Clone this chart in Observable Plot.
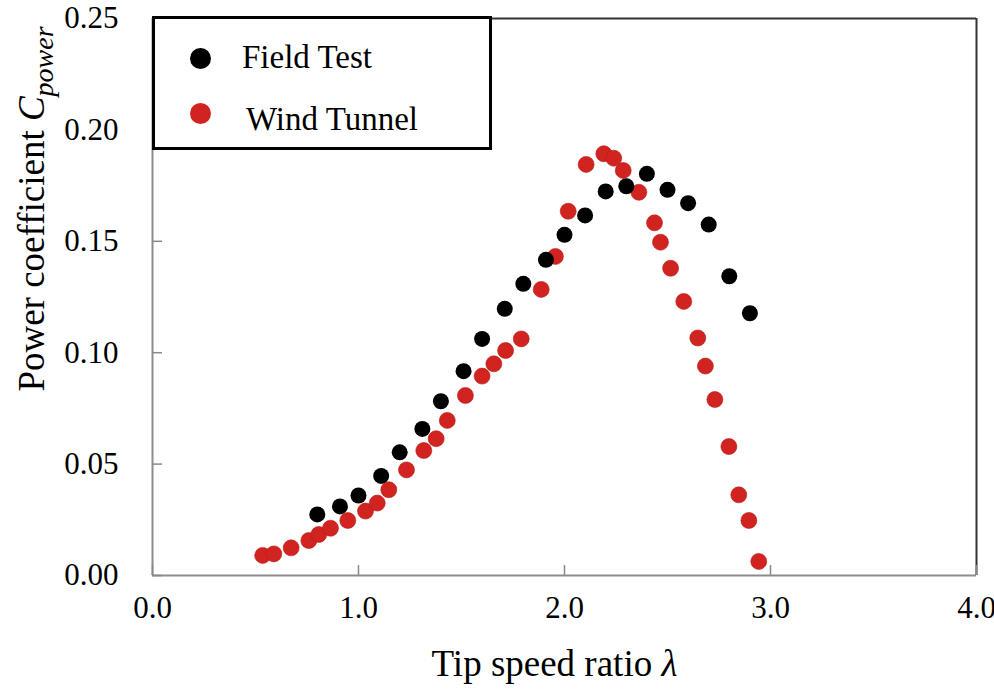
<!DOCTYPE html>
<html>
<head>
<meta charset="utf-8">
<script src="https://cdn.jsdelivr.net/npm/d3@7"></script>
<script src="https://cdn.jsdelivr.net/npm/@observablehq/plot@0.6"></script>
<style>
  body { margin: 0; background: #fff; }
  #wrap { position: relative; width: 994px; height: 694px; font-family: "Liberation Serif", "Times New Roman", serif; }
  #legend { position: absolute; left: 152px; top: 16px; width: 334px; height: 128px; border: 3px solid #000; background: #fff; }
  #legend .dot { position: absolute; width: 21px; height: 21px; border-radius: 50%; }
  #legend .lab { position: absolute; font-size: 33px; line-height: 1; color: #000; white-space: nowrap; }
</style>
</head>
<body>
<div id="wrap"></div>
<script>
// Field test (black)
const fieldX = [0.80, 0.91, 1.00, 1.11, 1.20, 1.31, 1.40, 1.51, 1.60, 1.71, 1.80, 1.91, 2.00, 2.10, 2.20, 2.30, 2.40, 2.50, 2.60, 2.70, 2.80, 2.90];
const fieldY = [0.0274, 0.0310, 0.0359, 0.0447, 0.0553, 0.0658, 0.0782, 0.0917, 0.1062, 0.1197, 0.1309, 0.1417, 0.1529, 0.1616, 0.1724, 0.1747, 0.1803, 0.1731, 0.1671, 0.1575, 0.1343, 0.1177];
// Wind tunnel (red)
const tunnelX = [0.535, 0.589, 0.673, 0.759, 0.807, 0.864, 0.948, 1.034, 1.091, 1.147, 1.233, 1.317, 1.377, 1.431, 1.519, 1.600, 1.657, 1.714, 1.790, 1.887, 1.956, 2.018, 2.105, 2.191, 2.239, 2.285, 2.361, 2.437, 2.466, 2.515, 2.579, 2.647, 2.684, 2.730, 2.798, 2.846, 2.895, 2.943];
const tunnelY = [0.0090, 0.0097, 0.0124, 0.0157, 0.0184, 0.0212, 0.0247, 0.0289, 0.0325, 0.0385, 0.0474, 0.0561, 0.0614, 0.0696, 0.0808, 0.0895, 0.0950, 0.1010, 0.1062, 0.1284, 0.1432, 0.1635, 0.1845, 0.1893, 0.1873, 0.1818, 0.1720, 0.1583, 0.1496, 0.1379, 0.1230, 0.1066, 0.0940, 0.0790, 0.0579, 0.0362, 0.0247, 0.0063];

const xTicks = [0, 1, 2, 3, 4];
const yTicks = [0, 0.05, 0.10, 0.15, 0.20, 0.25];
const seriesNames = ["Field Test", "Wind Tunnel"];
const seriesColors = ["#000000", "#d1231f"];
const xTitle = "Tip speed ratio λ";
const yTitle = "Power coefficient Cpower";

const field = fieldX.map((x, i) => ({x, y: fieldY[i]}));
const tunnel = tunnelX.map((x, i) => ({x, y: tunnelY[i]}));

const chart = Plot.plot({
  width: 994,
  height: 694,
  marginLeft: 152,
  marginRight: 18,
  marginTop: 18,
  marginBottom: 119,
  style: { fontFamily: "'Liberation Serif', 'Times New Roman', serif", fontSize: "31px", color: "#000", background: "#fff", overflow: "visible" },
  x: { domain: [0, 4], label: null },
  y: { domain: [0, 0.25], label: null },
  marks: [
    Plot.ruleY([0], { stroke: "#8c8c8c", strokeWidth: 2 }),
    Plot.ruleX([0], { stroke: "#8c8c8c", strokeWidth: 2 }),
    Plot.ruleY([0.25], { stroke: "#333", strokeWidth: 2 }),
    Plot.ruleX([4], { stroke: "#333", strokeWidth: 2 }),
    Plot.axisX(xTicks, { tickSize: 10, dy: -10, tickFormat: () => "", label: null, stroke: "#888", strokeWidth: 1.5 }),
    Plot.axisY(yTicks, { tickSize: 10, dx: 10, tickFormat: () => "", label: null, stroke: "#888", strokeWidth: 1.5 }),
    Plot.axisX(xTicks, { tickSize: 0, tickPadding: 20, tickFormat: d3.format(".1f"), label: null }),
    Plot.axisY(yTicks, { tickSize: 0, tickPadding: 34, tickFormat: d3.format(".2f"), label: null }),
    Plot.dot(tunnel, { x: "x", y: "y", r: 8, fill: seriesColors[1], stroke: "#b81c18", strokeWidth: 0.6 }),
    Plot.dot(field, { x: "x", y: "y", r: 8, fill: seriesColors[0] }),
    Plot.text([xTitle], { frameAnchor: "bottom", textAnchor: "middle", dy: 100, dx: -10, fontSize: 37, text: d => d }),
    Plot.text([yTitle], { frameAnchor: "left", textAnchor: "middle", rotate: -90, dx: -120, dy: -88, fontSize: 37, text: d => d })
  ]
});

// italic / subscript formatting on the titles
d3.select(chart).selectAll("text").each(function() {
  const t = this.textContent;
  if (t === yTitle) {
    const s = d3.select(this);
    s.text(null);
    s.append("tspan").text("Power coefficient ");
    s.append("tspan").attr("font-style", "italic").text("C");
    s.append("tspan").attr("font-style", "italic").attr("font-size", "28px").attr("dy", "0.3em").text("power");
  } else if (t === xTitle) {
    const s = d3.select(this);
    s.text(null);
    s.append("tspan").text("Tip speed ratio ");
    s.append("tspan").attr("font-style", "italic").text("λ");
  }
});

const wrap = document.getElementById("wrap");
wrap.appendChild(chart);

// legend box
const legend = document.createElement("div");
legend.id = "legend";
const items = [
  { name: seriesNames[0], color: seriesColors[0], dotTop: 29, textLeft: 87, textTop: 22 },
  { name: seriesNames[1], color: seriesColors[1], dotTop: 84, textLeft: 91, textTop: 84 }
];
items.forEach(it => {
  const d = document.createElement("span");
  d.className = "dot";
  d.style.left = "35px";
  d.style.top = it.dotTop + "px";
  d.style.background = it.color;
  legend.appendChild(d);
  const l = document.createElement("span");
  l.className = "lab";
  l.style.left = it.textLeft + "px";
  l.style.top = it.textTop + "px";
  l.textContent = it.name;
  legend.appendChild(l);
});
wrap.appendChild(legend);
</script>
</body>
</html>
